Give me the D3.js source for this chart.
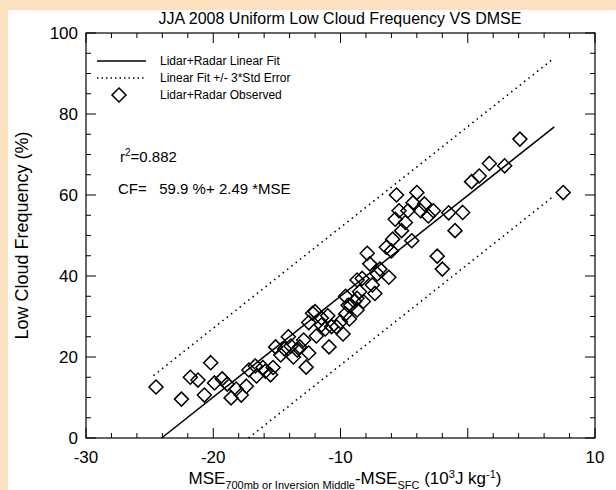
<!DOCTYPE html><html><head><meta charset="utf-8">
<script src="https://cdn.jsdelivr.net/npm/d3@7"></script>
<style>body{margin:0;background:#fbe1bd}svg{display:block}</style></head><body>
<svg id="c" width="616" height="490"></svg>
<script>
const xTicks=[-30,-20,-10,10];
const yTicks=[0,20,40,60,80,100];
const fitA=59.9, fitB=2.49, fitOff=17;
const obsX=[-24.5,-22.5,-21.8,-21.2,-20.7,-20.2,-19.9,-19.3,-18.9,-18.6,-18.2,-17.8,-17.4,-17.2,-16.7,-16.6,-16.1,-15.9,-15.5,-15.3,-15.1,-14.7,-14.4,-14.1,-13.9,-13.7,-13.4,-13.2,-12.9,-12.7,-12.5,-12.5,-12.2,-12,-11.9,-11.5,-11.2,-10.9,-10.7,-10.3,-10,-9.8,-9.6,-9.6,-9.3,-9.2,-8.9,-8.7,-8.7,4.1,7.5,1.7,0.9,0.3,2.9,-0.4,-1.5,-1,-2.4,-2,-2.7,-3.1,-3.4,-4,-3.7,-4.3,-4.7,-4.4,-5.6,-5.4,-5.7,-4.9,-5.2,-5.9,-6.4,-6,-7.9,-7.7,-6.9,-7.1,-6.2,-8.3,-7.5,-7.3,-8.5,-8.7,-9.4,-8.2,-11.5,-11];
const obsY=[12.6,9.6,15,14.3,10.6,18.6,13.6,14.6,13.3,9.9,12.1,10.6,12.8,16.8,17.8,15.3,17.4,16.5,15.6,17.4,22.5,20.5,22,25,22.7,20,21.7,22.5,24.2,17.5,21,28.5,30.8,31.2,25.2,27.9,26.9,22.5,27.5,27.4,28.7,25.7,30.6,35,29.4,32.8,33.7,39,31.6,73.8,60.6,67.8,64.7,63.3,67.2,55.7,55.6,51.2,44.9,41.7,56.1,54.8,57.8,60.6,56.1,58.1,56.1,48.7,60,56.1,54,53.2,51.2,49.1,47.1,46.2,45.6,43,41.7,40.5,39.7,39.4,37.8,35.7,36.1,34.5,32.8,33.7,29.6,30.2];
const svg=d3.select("#c");
svg.append("rect").attr("x",8).attr("y",10).attr("width",608).attr("height",480).attr("fill","#fff");
const L=86,R=595,T=33,B=438;
const x=d3.scaleLinear().domain([-30,10]).range([L,R]);
const y=d3.scaleLinear().domain([0,100]).range([B,T]);
const g=svg.append("g");
g.append("rect").attr("x",L).attr("y",T).attr("width",R-L).attr("height",B-T).attr("fill","none").attr("stroke","#000").attr("stroke-width",1.2);
const F="Liberation Sans, Arial, sans-serif";
// ticks
d3.range(-30,10.01,2).forEach(v=>{const len=v%10===0?10:5;
 g.append("line").attr("x1",x(v)).attr("x2",x(v)).attr("y1",B).attr("y2",B-len).attr("stroke","#000");
 g.append("line").attr("x1",x(v)).attr("x2",x(v)).attr("y1",T).attr("y2",T+len).attr("stroke","#000");});
d3.range(0,100.01,5).forEach(v=>{const len=v%20===0?10:5;
 g.append("line").attr("x1",L).attr("x2",L+len).attr("y1",y(v)).attr("y2",y(v)).attr("stroke","#000");
 g.append("line").attr("x1",R).attr("x2",R-len).attr("y1",y(v)).attr("y2",y(v)).attr("stroke","#000");});
xTicks.forEach(v=>g.append("text").attr("x",x(v)).attr("y",B+25).attr("text-anchor","middle").attr("font-family",F).attr("font-size",17).text(v));
yTicks.forEach(v=>g.append("text").attr("x",L-8).attr("y",y(v)+6).attr("text-anchor","end").attr("font-family",F).attr("font-size",17).text(v));
// fit lines
const x0=-fitA/fitB, x1=6.8;
g.append("line").attr("x1",x(x0)).attr("y1",y(0)).attr("x2",x(x1)).attr("y2",y(fitA+fitB*x1)).attr("stroke","#000").attr("stroke-width",1.5);
const ux0=-24.7;
g.append("line").attr("x1",x(ux0)).attr("y1",y(fitA+fitB*ux0+fitOff)).attr("x2",x(x1)).attr("y2",y(fitA+fitB*x1+fitOff)).attr("stroke","#000").attr("stroke-width",1.6).attr("stroke-dasharray","1.5,4");
const lx0=(fitOff-fitA)/fitB;
g.append("line").attr("x1",x(lx0)).attr("y1",y(0)).attr("x2",x(x1)).attr("y2",y(fitA+fitB*x1-fitOff)).attr("stroke","#000").attr("stroke-width",1.6).attr("stroke-dasharray","1.5,4");
const dia=(cx,cy)=>`M${cx},${cy-7}L${cx+7},${cy}L${cx},${cy+7}L${cx-7},${cy}Z`;
obsX.forEach((v,i)=>g.append("path").attr("d",dia(x(v),y(obsY[i]))).attr("fill","none").attr("stroke","#000").attr("stroke-width",1.5));
// legend
const leg=[["Lidar+Radar Linear Fit","solid"],["Linear Fit +/- 3*Std Error","dot"],["Lidar+Radar Observed","dia"]];
leg.forEach((d,i)=>{const yy=61+i*17;
 if(d[1]==="dia") g.append("path").attr("d",dia(119,yy)).attr("fill","none").attr("stroke","#000").attr("stroke-width",1.5);
 else g.append("line").attr("x1",97).attr("x2",146).attr("y1",yy).attr("y2",yy).attr("stroke","#000").attr("stroke-width",1.5).attr("stroke-dasharray",d[1]==="dot"?"1.5,3":null);
 g.append("text").attr("x",160).attr("y",yy+4).attr("font-family",F).attr("font-size",12).text(d[0]);});
const t1=g.append("text").attr("x",120).attr("y",162).attr("font-family",F).attr("font-size",15);
t1.append("tspan").text("r");t1.append("tspan").attr("dy",-6).attr("font-size",10).text("2");t1.append("tspan").attr("dy",6).text("=0.882");
g.append("text").attr("x",118).attr("y",194).attr("font-family",F).attr("font-size",15).attr("xml:space","preserve").style("white-space","pre").text("CF=   59.9 %+ 2.49 *MSE");
svg.append("text").attr("x",340).attr("y",24).attr("text-anchor","middle").attr("font-family",F).attr("font-size",16).text("JJA 2008 Uniform Low Cloud Frequency VS DMSE");
svg.append("text").attr("transform",`translate(28,${(T+B)/2}) rotate(-90)`).attr("text-anchor","middle").attr("font-family",F).attr("font-size",18).text("Low Cloud Frequency (%)");
const xl=svg.append("text").attr("x",345).attr("y",484).attr("text-anchor","middle").attr("font-family",F).attr("font-size",17);
xl.append("tspan").text("MSE");xl.append("tspan").attr("dy",5).attr("font-size",11).text("700mb or Inversion Middle");
xl.append("tspan").attr("dy",-5).text("-MSE");xl.append("tspan").attr("dy",5).attr("font-size",11).text("SFC");
xl.append("tspan").attr("dy",-5).text(" (10");xl.append("tspan").attr("dy",-6).attr("font-size",11).text("3");
xl.append("tspan").attr("dy",6).text("J kg");xl.append("tspan").attr("dy",-6).attr("font-size",11).text("-1");xl.append("tspan").attr("dy",6).text(")");
</script></body></html>
